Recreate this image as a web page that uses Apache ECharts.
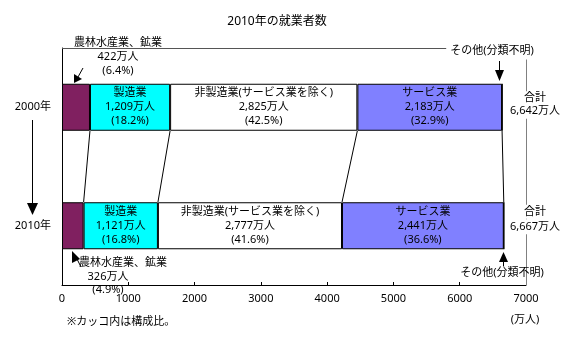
<!DOCTYPE html>
<html>
<head>
<meta charset="utf-8">
<script src="https://cdn.jsdelivr.net/npm/echarts/dist/echarts.min.js"></script>
<style>
  html, body { margin: 0; padding: 0; background: #fff; }
  #chart { width: 580px; height: 340px; }
</style>
</head>
<body>
<div id="chart"></div>
<script>
// 就業者数（万人）と構成比（％）
const years = ['2000年', '2010年'];
const sectorNames = ['農林水産業、鉱業', '製造業', '非製造業(サービス業を除く)', 'サービス業', 'その他(分類不明)'];
const agriculture = [422, 326];
const manufacturing = [1209, 1121];
const nonManufacturing = [2825, 2777];
const services = [2183, 2441];
const unclassified = [3, 2];
const totals = [6642, 6667];
const agricultureShare = [6.4, 4.9];
const manufacturingShare = [18.2, 16.8];
const nonManufacturingShare = [42.5, 41.6];
const servicesShare = [32.9, 36.6];
const axisMax = 7000;
const axisStep = 1000;

(function () {
const FONT = '"Noto Sans", "Noto Sans CJK JP", sans-serif';
const BAR_W = 47;
const fmt = v => v.toLocaleString('en-US');
const pct = v => '(' + v.toFixed(1) + '%)';

const chart = echarts.init(document.getElementById('chart'), null, { renderer: 'canvas' });

function barLabel(shares) {
  return {
    show: true,
    position: 'inside',
    color: '#000',
    fontFamily: FONT,
    fontSize: 11,
    lineHeight: 14,
    formatter: p => `${p.seriesName}\n${fmt(p.value)}万人\n${pct(shares[p.dataIndex])}`
  };
}

function barSeries(name, data, color, shares) {
  return {
    name: name,
    type: 'bar',
    stack: 'total',
    barWidth: BAR_W,
    data: data,
    itemStyle: { color: color, borderColor: '#000', borderWidth: 1 },
    label: shares ? barLabel(shares) : { show: false },
    emphasis: { disabled: true },
    silent: true
  };
}

// 区分の境界（累積値）: 2000年と2010年を結ぶ線
const stacks = [agriculture, manufacturing, nonManufacturing, services];
const boundaries = [];
let c0 = 0, c1 = 0;
for (const s of stacks) {
  c0 += s[0]; c1 += s[1];
  boundaries.push([c0, c1, 0]);
}

const option = {
  animation: false,
  backgroundColor: '#fff',
  textStyle: { fontFamily: FONT },
  grid: { left: 62, right: 54, top: 48, bottom: 55, containLabel: false },
  xAxis: {
    type: 'value',
    min: 0,
    max: axisMax,
    interval: axisStep,
    axisLine: { show: true, lineStyle: { color: '#000', width: 1 } },
    axisTick: { show: true, inside: true, length: 3, lineStyle: { color: '#000' } },
    axisLabel: { color: '#000', fontSize: 11, fontFamily: FONT, margin: 8, formatter: v => String(v) },
    splitLine: { show: false }
  },
  yAxis: {
    type: 'category',
    data: years,
    inverse: true,
    axisLine: { show: true, lineStyle: { color: '#000', width: 1 } },
    axisTick: { show: false },
    axisLabel: { color: '#000', fontSize: 11, fontFamily: FONT, margin: 11 }
  },
  series: [
    barSeries(sectorNames[0], agriculture, '#802060', null),
    barSeries(sectorNames[1], manufacturing, '#00FFFF', manufacturingShare),
    barSeries(sectorNames[2], nonManufacturing, '#FFFFFF', nonManufacturingShare),
    barSeries(sectorNames[3], services, '#8080FF', servicesShare),
    barSeries(sectorNames[4], unclassified, '#FFFFFF', null),
    {
      type: 'custom',
      coordinateSystem: 'cartesian2d',
      data: boundaries,
      encode: { x: [0, 1], y: 2 },
      silent: true,
      z: 5,
      renderItem: (params, api) => {
        const p0 = api.coord([api.value(0), 0]);
        const p1 = api.coord([api.value(1), 1]);
        return {
          type: 'line',
          shape: { x1: p0[0], y1: p0[1] + BAR_W / 2, x2: p1[0], y2: p1[1] - BAR_W / 2 },
          style: { stroke: '#000', lineWidth: 1 }
        };
      }
    }
  ]
};
chart.setOption(option);

// 注記（タイトル・枠・矢印・説明文）
const px = (v, cat) => chart.convertToPixel({ gridIndex: 0 }, [v, cat]);
const xRight = px(axisMax, 0)[0];
const xLeft = px(0, 0)[0];
const yTop = 48, yBottom = 285;
const y2000 = px(0, 0)[1];
const y2010 = px(0, 1)[1];
const txt = (x, y, text, extra) => ({
  type: 'text', x: x, y: y, silent: true, z: 10,
  style: Object.assign({ text: text, fill: '#000', font: '11px ' + FONT, align: 'center', verticalAlign: 'middle' }, extra || {})
});
const line = (x1, y1, x2, y2, color) => ({
  type: 'line', silent: true, z: 9,
  shape: { x1, y1, x2, y2 }, style: { stroke: color || '#000', lineWidth: 1 }
});
const tri = pts => ({ type: 'polygon', silent: true, z: 9, shape: { points: pts }, style: { fill: '#000' } });

const graphics = [
  txt(277, 22, '2010年の就業者数', { font: '12px ' + FONT }),
  // 枠
  line(xLeft, yTop + 0.5, xRight, yTop + 0.5, '#555'),
  line(xRight + 0.5, yTop, xRight + 0.5, yBottom, '#808080'),
  // 左の時系列矢印
  line(32.5, 120, 32.5, 206),
  tri([[27, 203], [38, 203], [32.5, 215]]),
  // 農林水産業（2000年）
  txt(118, 43, sectorNames[0]),
  txt(118, 57, fmt(agriculture[0]) + '万人'),
  txt(118, 71, pct(agricultureShare[0])),
  line(83, 68, 78, 77),
  tri([[74, 83], [74, 74], [82, 79]]),
  // その他（2000年）
  txt(492, 51, sectorNames[4], { backgroundColor: '#fff', padding: [3, 4] }),
  line(499.5, 61, 499.5, 71),
  tri([[495, 70], [504, 70], [499.5, 81]]),
  // 合計
  txt(535, y2000 - 9, '合計', { backgroundColor: '#fff', padding: [3, 0, 0, 0] }),
  txt(535, y2000 + 4, fmt(totals[0]) + '万人', { backgroundColor: '#fff', padding: [0, 0, 4, 0] }),
  txt(535, y2010 - 14, '合計', { backgroundColor: '#fff', padding: [3, 0, 0, 0] }),
  txt(535, y2010 + 1, fmt(totals[1]) + '万人', { backgroundColor: '#fff', padding: [0, 0, 4, 0] }),
  // その他（2010年）
  txt(502, 273, sectorNames[4]),
  line(503.5, 260, 503.5, 266),
  tri([[499, 262], [508, 262], [503.5, 252]]),
  // 農林水産業（2010年）
  txt(123, 263, sectorNames[0]),
  txt(108, 277, fmt(agriculture[1]) + '万人'),
  txt(108, 290, pct(agricultureShare[1])),
  tri([[72, 251], [72, 263], [80, 259]]),
  line(77, 259, 81, 267),
  // 単位と注記
  txt(525, 320, '(万人)'),
  txt(67, 322, '※カッコ内は構成比。', { align: 'left' })
];
chart.setOption({ graphic: { elements: graphics } });
})();
</script>
</body>
</html>
